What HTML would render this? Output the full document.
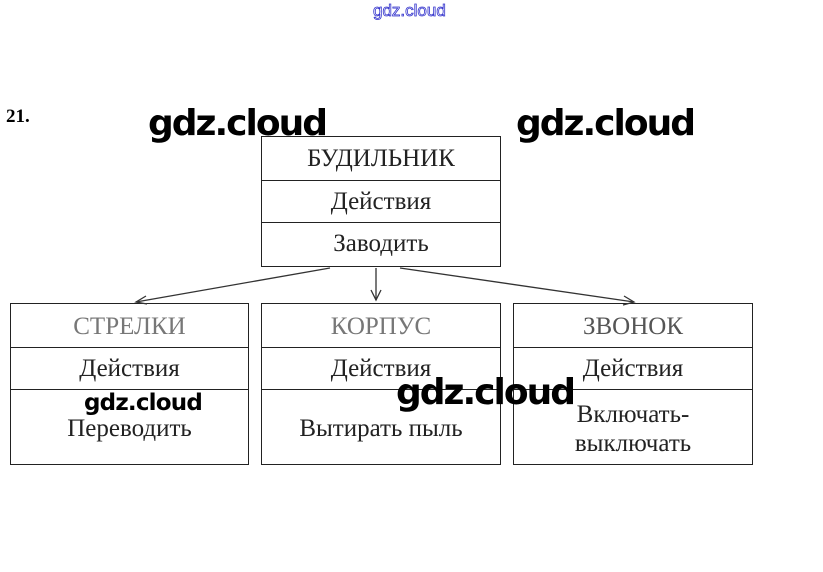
<!DOCTYPE html><html><head><meta charset="utf-8"><style>
body{margin:0;width:823px;height:572px;background:#fff;position:relative;overflow:hidden;font-family:"Liberation Serif",serif}
.b{position:absolute;border:1px solid #222;box-sizing:border-box}
.l{position:absolute;left:0;right:0;border-top:1px solid #222}
.t{position:absolute;left:0;right:0;text-align:center;font-size:25px;color:#222;line-height:28px}
.w{position:absolute;font-family:"DejaVu Sans","Liberation Sans",sans-serif;font-weight:bold;font-size:36px;color:#000;letter-spacing:-2px}
</style></head><body>
<div style="position:absolute;left:373px;top:1px;font-family:'Liberation Sans',sans-serif;font-size:17px;color:#fff;-webkit-text-stroke:0.8px #33c">gdz.cloud</div>
<div style="position:absolute;left:6px;top:106px;font-weight:bold;font-size:19px">21.</div>
<div class="b" style="left:261px;top:136px;width:240px;height:131px">
<div class="l" style="top:43px"></div><div class="l" style="top:85px"></div>
<div class="t" style="top:8px">БУДИЛЬНИК</div><div class="t" style="top:51px">Действия</div><div class="t" style="top:93px">Заводить</div></div>
<div class="b" style="left:10px;top:303px;width:239px;height:162px">
<div class="l" style="top:43px"></div><div class="l" style="top:85px"></div>
<div class="t" style="top:9px;color:#777">СТРЕЛКИ</div><div class="t" style="top:51px">Действия</div><div class="t" style="top:111px">Переводить</div></div>
<div class="b" style="left:261px;top:303px;width:240px;height:162px">
<div class="l" style="top:43px"></div><div class="l" style="top:85px"></div>
<div class="t" style="top:9px;color:#777">КОРПУС</div><div class="t" style="top:51px">Действия</div><div class="t" style="top:111px">Вытирать пыль</div></div>
<div class="b" style="left:513px;top:303px;width:240px;height:162px">
<div class="l" style="top:43px"></div><div class="l" style="top:85px"></div>
<div class="t" style="top:9px;color:#555">ЗВОНОК</div><div class="t" style="top:51px">Действия</div><div class="t" style="top:96px;line-height:29px">Включать-<br>выключать</div></div>
<svg style="position:absolute;left:0;top:0" width="823" height="572">
<g stroke="#333" stroke-width="1.3" fill="none">
<line x1="330" y1="268" x2="136" y2="302"/><polyline points="146,296 136,302 147,304"/>
<line x1="376" y1="268" x2="376" y2="300"/><polyline points="371,290 376,300 381,290"/>
<line x1="400" y1="268" x2="634" y2="302"/><polyline points="624,296 634,302 623,305"/>
</g></svg>
<div class="w" style="left:148px;top:103px">gdz.cloud</div>
<div class="w" style="left:516px;top:103px">gdz.cloud</div>
<div class="w" style="left:396px;top:372px">gdz.cloud</div>
<div class="w" style="left:84px;top:390px;font-size:23px;letter-spacing:-0.8px">gdz.cloud</div>
</body></html>
